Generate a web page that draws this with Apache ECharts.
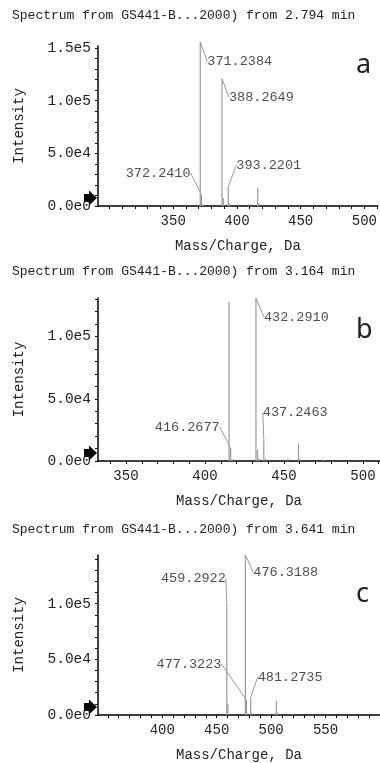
<!DOCTYPE html>
<html>
<head>
<meta charset="utf-8">
<script src="https://cdn.jsdelivr.net/npm/echarts@6/dist/echarts.min.js"></script>
<style>
  html, body { margin: 0; padding: 0; background: #fff; }
  #chart { width: 380px; height: 763px; }
</style>
</head>
<body>
<div id="chart"></div>
<script>
// panel titles and letters
const titles = [
  "Spectrum from GS441-B...2000) from 2.794 min",
  "Spectrum from GS441-B...2000) from 3.164 min",
  "Spectrum from GS441-B...2000) from 3.641 min"
];
const letters = ["a", "b", "c"];

// peaks: [m/z, intensity]
const peaksA = [
  [371.2384, 156000], [372.2410, 10500], [373.24, 1500],
  [388.2649, 121000], [389.27, 7500], [393.2201, 18000], [394.22, 2500],
  [409.3, 2000], [416.3, 17000], [417.3, 2500], [430.2, 800]
];
const peaksB = [
  [415.27, 128000], [416.2677, 10500], [417.27, 1500],
  [432.2910, 131000], [433.29, 9000], [434.29, 2000],
  [437.2463, 17000], [438.25, 2000], [452.5, 2000],
  [459.2, 14200], [460.2, 2000], [475.0, 1000]
];
const peaksC = [
  [459.2922, 100000], [460.29, 10000],
  [476.3188, 144000], [477.3223, 13500], [481.2735, 16000], [482.28, 2000],
  [497.5, 1000], [504.8, 12800], [505.8, 2000], [520.0, 1000]
];

// labelled peaks
const annotA = [[371.2384, 156000], [388.2649, 121000], [372.2410, 10500], [393.2201, 18000]];
const annotB = [[432.2910, 131000], [416.2677, 10500], [437.2463, 17000]];
const annotC = [[476.3188, 144000], [459.2922, 100000], [477.3223, 13500], [481.2735, 16000]];

// axis ranges and tick labels
const xRanges = [[291, 510.5], [332.3, 510.8], [341, 600]];
const yMaxes = [152000, 131000, 143750];
const xLabelTicks = [[350, 400, 450, 500], [350, 400, 450, 500], [400, 450, 500, 550]];
const yLabelTicks = [[0, 50000, 100000, 150000], [0, 50000, 100000], [0, 50000, 100000]];

// label placement relative to the peak top: [dx, dy, align]
const annotPlaceA = [[7, 20, "left"], [7, 19, "left"], [-11, -22, "right"], [8, -22, "left"]];
const annotPlaceB = [[8, 19, "left"], [-11, -21, "right"], [-1, -27, "left"]];
const annotPlaceC = [[8, 18, "left"], [-1, -25, "right"], [-25, -36, "right"], [7, -20, "left"]];

const peaks = [peaksA, peaksB, peaksC];
const annots = [annotA, annotB, annotC];
const places = [annotPlaceA, annotPlaceB, annotPlaceC];

const grids = [
  { left: 98, right: 0, top: 46, height: 160 },
  { left: 98, right: 0, top: 298, height: 163 },
  { left: 98, right: 0, top: 555, height: 161 }
];
const titleTops = [9, 265, 523];
const letterTops = [52, 317, 581];

const mono = "Liberation Mono, DejaVu Sans Mono, monospace";
const ink = "#222";

function steps(lo, hi, step) {
  const out = [];
  for (let v = Math.ceil(lo / step) * step; v <= hi; v += step) out.push(v);
  return out;
}

function expLabel(v) {
  return v.toExponential(1).replace("+", "");
}

const chart = echarts.init(document.getElementById("chart"));

const option = {
  animation: false,
  backgroundColor: "#fff",
  title: [],
  grid: grids,
  xAxis: [],
  yAxis: [],
  series: []
};

for (let i = 0; i < 3; i++) {
  option.title.push({
    text: titles[i], left: 12, top: titleTops[i], padding: 0,
    textStyle: { fontFamily: mono, fontSize: 13, fontWeight: "normal", color: ink }
  });
  option.title.push({
    text: letters[i], left: 356, top: letterTops[i], padding: 0,
    textStyle: { fontFamily: "Noto Sans, sans-serif", fontSize: 27, fontWeight: "normal", color: ink }
  });

  option.xAxis.push({
    type: "value", gridIndex: i,
    min: xRanges[i][0], max: xRanges[i][1],
    name: "Mass/Charge, Da", nameLocation: "middle", nameGap: 33,
    nameTextStyle: { fontFamily: mono, fontSize: 14, color: ink },
    axisLine: { show: true, onZero: false, lineStyle: { color: "#000", width: 1.5 } },
    axisTick: { show: true, length: 3, customValues: steps(xRanges[i][0], xRanges[i][1], 10), lineStyle: { color: "#000" } },
    axisLabel: { customValues: xLabelTicks[i], margin: 8, fontFamily: mono, fontSize: 14, color: ink },
    splitLine: { show: false }
  });

  option.yAxis.push({
    type: "value", gridIndex: i,
    min: 0, max: yMaxes[i],
    name: "Intensity", nameLocation: "middle", nameGap: 72,
    nameTextStyle: { fontFamily: mono, fontSize: 14, color: ink },
    axisLine: { show: true, lineStyle: { color: "#000", width: 1.5 } },
    axisTick: { show: true, length: 3, customValues: steps(0, yMaxes[i], 10000), lineStyle: { color: "#000" } },
    axisLabel: { customValues: yLabelTicks[i], margin: 7, fontFamily: mono, fontSize: 14.5, color: ink, formatter: expLabel },
    splitLine: { show: false }
  });

  option.series.push({
    type: "bar", xAxisIndex: i, yAxisIndex: i,
    data: peaks[i], barWidth: 1.2, clip: false,
    itemStyle: { color: "#999" }
  });

  const place = places[i];
  option.series.push({
    type: "scatter", xAxisIndex: i, yAxisIndex: i,
    data: annots[i], symbolSize: 1, clip: false,
    itemStyle: { color: "rgba(0,0,0,0)" },
    label: {
      show: true, position: "inside",
      fontFamily: mono, fontSize: 13.5, color: ink,
      formatter: (p) => p.value[0].toFixed(4)
    },
    labelLine: { show: true, lineStyle: { color: "#999", width: 1 } },
    labelLayout: (p) => {
      const o = place[p.dataIndex];
      return {
        x: p.rect.x + p.rect.width / 2 + o[0],
        y: p.rect.y + p.rect.height / 2 + o[1],
        align: o[2], verticalAlign: "middle"
      };
    }
  });
}

chart.setOption(option);

// arrow marks at the origin of each panel
const arrows = [];
for (let i = 0; i < 3; i++) {
  const base = chart.convertToPixel({ yAxisIndex: i }, 0);
  const c = base - 8;
  arrows.push({
    type: "polygon",
    shape: { points: [[84, c - 4], [89, c - 4], [89, c - 7.5], [97, c], [89, c + 7.5], [89, c + 4], [84, c + 4]] },
    style: { fill: "#000" }
  });
}
chart.setOption({ graphic: arrows });
</script>
</body>
</html>
